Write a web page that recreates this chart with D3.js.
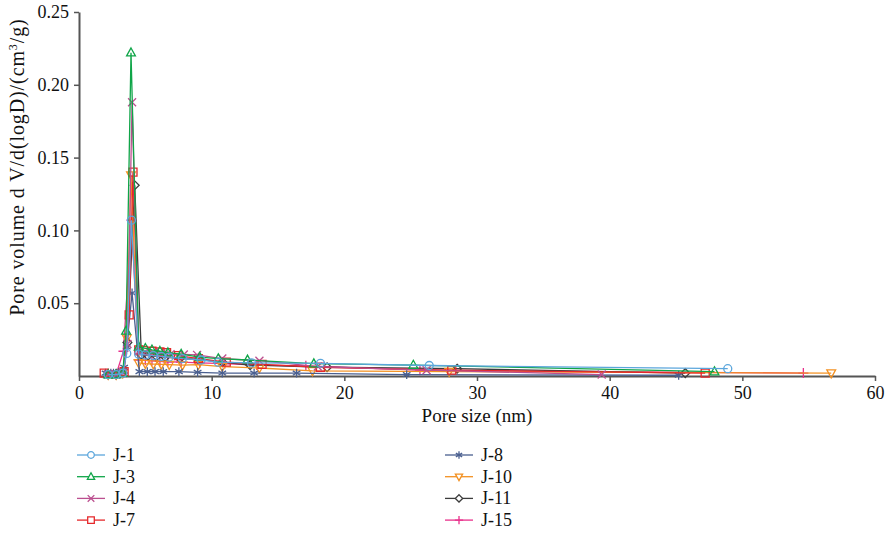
<!DOCTYPE html>
<html>
<head>
<meta charset="utf-8">
<script src="https://cdn.jsdelivr.net/npm/d3@7"></script>
<style>
  body { margin: 0; background: #fff; }
  svg text { fill: #111; }
</style>
</head>
<body>
<div id="graphic"></div>
<script>
// pore size (nm) and dV/d(logD) values
var seriesNames = ["J-1", "J-3", "J-4", "J-7", "J-8", "J-10", "J-11", "J-15"];

var j1x = [2.2, 2.8, 3.3, 3.6, 3.95, 4.5, 5.0, 5.6, 6.2, 6.8, 7.8, 9.2, 10.5, 13.0, 18.2, 26.4, 48.9];
var j1y = [0.001, 0.001, 0.002, 0.0155, 0.107, 0.015, 0.0145, 0.014, 0.0135, 0.013, 0.012, 0.011, 0.0095, 0.009, 0.0087, 0.0072, 0.005];

var j3x = [2.2, 2.8, 3.3, 3.55, 3.92, 4.5, 5.0, 5.5, 6.1, 6.7, 7.7, 9.1, 10.5, 12.7, 17.7, 25.2, 47.9];
var j3y = [0.001, 0.001, 0.002, 0.031, 0.222, 0.020, 0.019, 0.018, 0.017, 0.016, 0.015, 0.013, 0.012, 0.011, 0.0085, 0.0075, 0.003];

var j4x = [2.2, 2.8, 3.3, 3.65, 4.0, 4.5, 5.0, 5.6, 6.2, 6.9, 7.9, 8.9, 10.8, 13.6, 18.0, 26.2, 39.4];
var j4y = [0.001, 0.001, 0.002, 0.022, 0.188, 0.017, 0.0165, 0.016, 0.0155, 0.015, 0.0148, 0.0145, 0.012, 0.0105, 0.0065, 0.004, 0.001];

var j7x = [1.9, 3.4, 3.78, 4.07, 4.5, 4.85, 5.5, 6.1, 6.6, 7.5, 9.0, 11.1, 13.8, 18.2, 28.1, 47.2];
var j7y = [0.002, 0.003, 0.042, 0.140, 0.018, 0.0175, 0.017, 0.0165, 0.016, 0.014, 0.012, 0.0095, 0.008, 0.006, 0.004, 0.002];

var j8x = [2.0, 2.2, 2.4, 2.6, 2.8, 3.0, 3.2, 3.4, 3.6, 4.0, 4.55, 5.15, 5.73, 6.35, 7.53, 8.94, 10.8, 13.2, 16.4, 24.7, 45.2];
var j8y = [0.002, 0.002, 0.002, 0.002, 0.002, 0.0025, 0.003, 0.006, 0.020, 0.057, 0.003, 0.003, 0.003, 0.003, 0.003, 0.0025, 0.002, 0.002, 0.002, 0.001, 0.0005];

var j10x = [2.2, 2.8, 3.3, 3.6, 3.92, 4.5, 5.0, 5.6, 6.2, 6.8, 7.8, 9.0, 10.8, 13.6, 17.6, 27.9, 56.7];
var j10y = [0.001, 0.001, 0.002, 0.026, 0.138, 0.009, 0.0085, 0.0082, 0.008, 0.0078, 0.0075, 0.0078, 0.0065, 0.0055, 0.0035, 0.003, 0.002];

var j11x = [2.2, 2.8, 3.3, 3.65, 4.2, 4.7, 5.2, 5.85, 6.5, 7.6, 9.0, 10.8, 12.9, 18.7, 28.5, 45.7];
var j11y = [0.001, 0.001, 0.002, 0.023, 0.131, 0.0145, 0.014, 0.0135, 0.013, 0.012, 0.0115, 0.0095, 0.0075, 0.006, 0.005, 0.002];

var j15x = [2.2, 2.8, 3.35, 3.95, 4.5, 5.0, 5.5, 6.1, 6.7, 7.7, 9.1, 11.0, 13.4, 17.1, 25.7, 54.6];
var j15y = [0.001, 0.001, 0.017, 0.107, 0.011, 0.0108, 0.0105, 0.010, 0.0098, 0.0095, 0.009, 0.0085, 0.0075, 0.007, 0.004, 0.002];

var xTicks = [0, 10, 20, 30, 40, 50, 60];
var yTicks = [0.05, 0.10, 0.15, 0.20, 0.25];

var colors  = ["#5ba6dc", "#0fa548", "#bb4f8f", "#e5282b", "#4a5f8f", "#f39122", "#3c3c3c", "#e8318b"];
var markers = ["circle", "triangle", "cross", "square", "star", "triangleDown", "diamond", "plus"];

var allX = [j1x, j3x, j4x, j7x, j8x, j10x, j11x, j15x];
var allY = [j1y, j3y, j4y, j7y, j8y, j10y, j11y, j15y];

var w = 890, h = 535;
var padLeft = 79, padRight = 875, padTop = 12, padBottom = 376;
var serif = "Liberation Serif";

var svg = d3.select("#graphic").append("svg")
    .attr("width", w)
    .attr("height", h);

var xScale = d3.scaleLinear().domain([0, 60]).range([padLeft, padRight]);
var yScale = d3.scaleLinear().domain([0, 0.25]).range([padBottom, padTop]);

// marker path around 0,0
function markerPath(type, s) {
    switch (type) {
        case "circle":
            return "M" + s + ",0A" + s + "," + s + " 0 1,1 " + (-s) + ",0A" + s + "," + s + " 0 1,1 " + s + ",0Z";
        case "triangle":
            return "M0," + (-s * 1.2) + "L" + (s * 1.1) + "," + (s * 0.8) + "L" + (-s * 1.1) + "," + (s * 0.8) + "Z";
        case "triangleDown":
            return "M0," + (s * 1.2) + "L" + (s * 1.1) + "," + (-s * 0.8) + "L" + (-s * 1.1) + "," + (-s * 0.8) + "Z";
        case "square":
            return "M" + (-s) + "," + (-s) + "H" + s + "V" + s + "H" + (-s) + "Z";
        case "diamond":
            return "M0," + (-s * 1.1) + "L" + (s * 1.1) + ",0L0," + (s * 1.1) + "L" + (-s * 1.1) + ",0Z";
        case "cross":
            return "M" + (-s) + "," + (-s) + "L" + s + "," + s + "M" + s + "," + (-s) + "L" + (-s) + "," + s;
        case "plus":
            var p = s * 1.25;
            return "M" + (-p) + ",0H" + p + "M0," + (-p) + "V" + p;
        case "star":
            var a = s * 1.1, b = a * 0.866, c = a * 0.5;
            return "M0," + (-a) + "V" + a + "M" + (-b) + "," + (-c) + "L" + b + "," + c + "M" + b + "," + (-c) + "L" + (-b) + "," + c;
    }
}

var line = d3.line()
    .x(function(d){ return xScale(d[0]); })
    .y(function(d){ return yScale(d[1]); });

// axes
var xAxis = svg.append("g")
    .attr("transform", "translate(0," + padBottom + ")")
    .call(d3.axisBottom(xScale).tickValues(xTicks).tickSize(5).tickSizeOuter(0).tickPadding(5));
var yAxis = svg.append("g")
    .attr("transform", "translate(" + padLeft + ",0)")
    .call(d3.axisLeft(yScale).tickValues(yTicks).tickSize(5).tickSizeOuter(0).tickPadding(5)
        .tickFormat(d3.format(".2f")));

[xAxis, yAxis].forEach(function(g){
    g.attr("font-family", serif).attr("font-size", "18px");
    g.select(".domain").attr("stroke", "#555").attr("stroke-width", 2);
    g.selectAll(".tick line").attr("stroke", "#555").attr("stroke-width", 1.5);
    g.selectAll(".tick text").attr("fill", "#111");
});

// series
var plot = svg.append("g");
for (var i = allX.length - 1; i >= 0; i--) {
    var pts = allX[i].map(function(x, k){ return [x, allY[i][k]]; });
    var g = plot.append("g");
    g.append("path")
        .attr("d", line(pts))
        .attr("fill", "none")
        .attr("stroke", colors[i])
        .attr("stroke-width", 1.3);
    g.selectAll("path.m")
        .data(pts)
        .enter()
        .append("path")
        .attr("class", "m")
        .attr("transform", function(d){ return "translate(" + xScale(d[0]) + "," + yScale(d[1]) + ")"; })
        .attr("d", markerPath(markers[i], 4))
        .attr("fill", "none")
        .attr("stroke", colors[i])
        .attr("stroke-width", 1.3);
}

// axis titles
svg.append("text")
    .attr("x", 477).attr("y", 422)
    .attr("text-anchor", "middle")
    .attr("font-family", serif)
    .attr("font-size", "19px")
    .text("Pore size (nm)");

var yt = svg.append("text")
    .attr("transform", "translate(24,167) rotate(-90)")
    .attr("text-anchor", "middle")
    .attr("font-family", serif)
    .attr("font-size", "20px")
    .attr("letter-spacing", "0.9px");
yt.append("tspan").text("Pore volume d V/d(logD)/(cm");
yt.append("tspan").attr("dy", -7).attr("font-size", "12px").text("3");
yt.append("tspan").attr("dy", 7).text("/g)");

// legend
var legend = svg.append("g");
seriesNames.forEach(function(name, i){
    var col = Math.floor(i / 4), row = i % 4;
    var lx = col === 0 ? 77 : 445;
    var ly = 455 + row * 21.7;
    var lg = legend.append("g").attr("transform", "translate(" + lx + "," + ly + ")");
    lg.append("line")
        .attr("x1", 0).attr("x2", 28)
        .attr("stroke", colors[i]).attr("stroke-width", 1.3);
    lg.append("path")
        .attr("transform", "translate(14,0)")
        .attr("d", markerPath(markers[i], 3.3))
        .attr("fill", "#fff")
        .attr("stroke", colors[i])
        .attr("stroke-width", 1.3);
    lg.append("text")
        .attr("x", 36).attr("y", 6)
        .attr("font-family", serif)
        .attr("font-size", "18px")
        .text(name);
});
</script>
</body>
</html>
